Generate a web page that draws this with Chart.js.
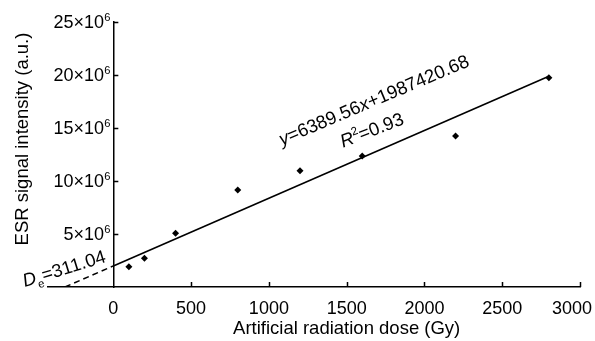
<!DOCTYPE html>
<html>
<head>
<meta charset="utf-8">
<script src="https://cdn.jsdelivr.net/npm/chart.js@4.4.1/dist/chart.umd.min.js"></script>
<style>
  html, body { margin: 0; padding: 0; background: #fff; }
  #wrap { width: 595px; height: 341px; }
</style>
</head>
<body>
<div id="wrap"><canvas id="c"></canvas></div>
<script>
// --- data ---
const doses = [100, 200, 400, 800, 1200, 1600, 2200, 2800];
const intensity = [1.92e6, 2.71e6, 5.07e6, 9.15e6, 10.97e6, 12.36e6, 14.25e6, 19.75e6];

// fitted line (y = 6389.56x + 1987420.68) and its extrapolation to y = 0
const fitDose = [0, 2800];
const fitIntensity = [1987420.68, 19878188.68];
const extrapDose = [-311.04, 0];
const extrapIntensity = [0, 1987420.68];

const xTicks = [0, 500, 1000, 1500, 2000, 2500, 3000];
const yTicks = [0, 5e6, 10e6, 15e6, 20e6, 25e6];
const yTickMantissa = ["", "5", "10", "15", "20", "25"];   // shown as N×10^6

const FONT = '"Liberation Sans", Arial, sans-serif';
const TICK_SIZE = 18;
const TEXT_SIZE = 18.5;
const TICK_LEN = 5;

// -----------------------------------------------------------------------
// Text helpers: runs of normal / italic / sub / sup pieces
// -----------------------------------------------------------------------
function runFont(seg, size) {
  const s = seg.sub || seg.sup ? size * 0.62 : size;
  return (seg.italic ? "italic " : "") + s + "px " + FONT;
}

function drawRun(c, segs, cx, cy, angleDeg, size, align) {
  c.save();
  c.translate(cx, cy);
  c.rotate(angleDeg * Math.PI / 180);
  c.fillStyle = "#000";
  c.textBaseline = "middle";
  c.textAlign = "left";
  let w = 0;
  segs.forEach((seg) => { c.font = runFont(seg, size); w += c.measureText(seg.t).width; });
  let x = align === "right" ? -w : -w / 2;
  segs.forEach((seg) => {
    c.font = runFont(seg, size);
    const dy = seg.sub ? size * 0.4 : seg.sup ? -size * 0.3 : 0;
    c.fillText(seg.t, x, dy);
    x += c.measureText(seg.t).width;
  });
  c.restore();
}

const labelsPlugin = {
  id: "labels",
  beforeDraw(chart) {
    // the last x tick label is pulled in so it stays inside the picture
    const xs = chart.scales.x;
    const items = xs.getLabelItems(chart.chartArea);
    const last = items[items.length - 1];
    if (!last) return;
    const c = chart.ctx;
    c.save();
    c.font = last.font.string;
    const w = c.measureText(String(last.label)).width;
    c.restore();
    const t = last.options.translation;
    if (t[0] + w / 2 > chart.width - 3) t[0] = chart.width - 3 - w / 2;
  },
  afterDraw(chart) {
    const c = chart.ctx;
    const xs = chart.scales.x, ys = chart.scales.y;
    const px = (v) => xs.getPixelForValue(v);
    const py = (v) => ys.getPixelForValue(v);
    const x0 = px(0), y0 = py(0);

    // inward tick marks on both axes
    c.save();
    c.strokeStyle = "#000";
    c.lineWidth = 1.5;
    c.beginPath();
    xTicks.forEach((v) => {
      if (v === 0) return;
      const x = Math.round(px(v)) + 0.5;
      c.moveTo(x, y0);
      c.lineTo(x, y0 - TICK_LEN);
    });
    yTicks.forEach((v) => {
      if (v === 0) return;
      const y = Math.round(py(v)) + 0.5;
      c.moveTo(x0, y);
      c.lineTo(x0 + TICK_LEN, y);
    });
    c.stroke();
    c.restore();

    // y tick labels: N×10^6
    yTicks.forEach((v, i) => {
      if (!yTickMantissa[i]) return;
      drawRun(c, [{ t: yTickMantissa[i] + "×10" }, { t: "6", sup: true }], x0 - 3, py(v) + 1, 0, TICK_SIZE, "right");
    });

    drawRun(c, [{ t: "y", italic: true }, { t: "=6389.56" }, { t: "x", italic: true }, { t: "+1987420.68" }],
      px(1677), py(17.55e6), -23, TEXT_SIZE);
    drawRun(c, [{ t: "R", italic: true }, { t: "2", sup: true }, { t: "=0.93" }],
      px(1664), py(14.72e6), -21, TEXT_SIZE);
    drawRun(c, [{ t: "D", italic: true }, { t: "e", sub: true }, { t: "=311.04" }],
      px(-315), py(1.65e6), -17, TEXT_SIZE);

    // axis titles
    c.save();
    c.fillStyle = "#000";
    c.font = TEXT_SIZE + "px " + FONT;
    c.textAlign = "center";
    c.textBaseline = "middle";
    c.fillText("Artificial radiation dose (Gy)", (px(0) + px(3000)) / 2, 329);
    c.translate(23, 139);
    c.rotate(-Math.PI / 2);
    c.fillText("ESR signal intensity (a.u.)", 0, 0);
    c.restore();
  },
};

new Chart(document.getElementById("c"), {
  type: "scatter",
  data: {
    datasets: [
      {
        label: "data",
        data: doses.map((d, i) => ({ x: d, y: intensity[i] })),
        pointStyle: "rectRot",
        pointRadius: 3.5,
        backgroundColor: "#000",
        borderColor: "#000",
        borderWidth: 0,
        order: 0,
      },
      {
        label: "fit",
        type: "line",
        data: fitDose.map((d, i) => ({ x: d, y: fitIntensity[i] })),
        borderColor: "#000",
        borderWidth: 1.6,
        pointRadius: 0,
        order: 1,
      },
      {
        label: "extrapolation",
        type: "line",
        data: extrapDose.map((d, i) => ({ x: d, y: extrapIntensity[i] })),
        borderColor: "#000",
        borderWidth: 1.5,
        borderDash: [6, 4],
        pointRadius: 0,
        order: 1,
      },
    ],
  },
  options: {
    animation: false,
    responsive: true,
    maintainAspectRatio: false,
    layout: { padding: { left: 48, right: 15, top: 22, bottom: 0 } },
    plugins: { legend: { display: false }, tooltip: { enabled: false } },
    scales: {
      x: {
        type: "linear",
        min: -420,
        max: 3000,
        afterBuildTicks: (s) => { s.ticks = xTicks.map((v) => ({ value: v })); },
        afterFit: (s) => { s.height = 54; s.paddingLeft = 0; s.paddingRight = 0; },
        border: { color: "#000", width: 1.5 },
        grid: { display: false, drawTicks: false },
        ticks: {
          color: "#000",
          font: { family: FONT, size: TICK_SIZE },
          padding: 11,
          maxRotation: 0,
          callback: (v) => String(v),
        },
      },
      y: {
        type: "linear",
        position: { x: 0 },
        min: 0,
        max: 25e6,
        afterBuildTicks: (s) => { s.ticks = yTicks.map((v) => ({ value: v })); },
        afterFit: (s) => { s.width = 0; s.paddingTop = 0; s.paddingBottom = 0; },
        border: { color: "#000", width: 1.5 },
        grid: { display: false, drawTicks: false },
        ticks: { display: false },
      },
    },
  },
  plugins: [labelsPlugin],
});
</script>
</body>
</html>
